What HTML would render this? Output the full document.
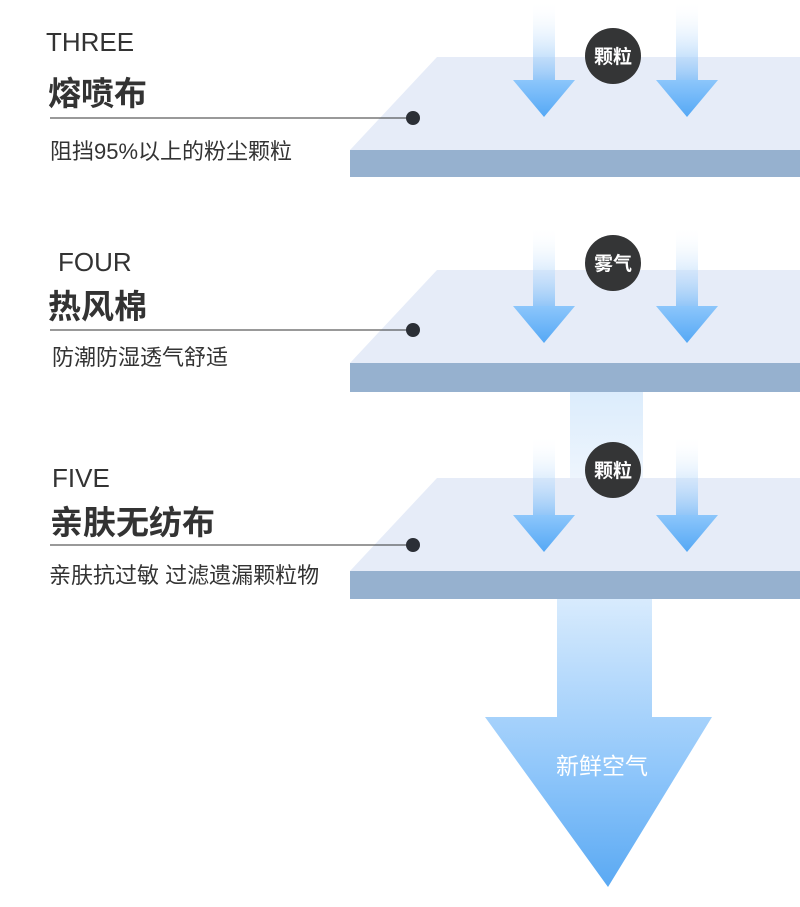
<!DOCTYPE html>
<html><head><meta charset="utf-8"><style>
body{margin:0;width:800px;height:907px;overflow:hidden;background:#fff;font-family:"Liberation Sans","Noto Sans CJK SC",sans-serif;}
.t{position:absolute;color:#333;white-space:nowrap;}
</style></head><body>
<svg width="800" height="907" style="position:absolute;left:0;top:0">
<defs>
<linearGradient id="sh" x1="0" y1="0" x2="0" y2="1"><stop offset="0" stop-color="#fff" stop-opacity="0"/><stop offset="1" stop-color="#8ec4f8"/></linearGradient>
<linearGradient id="hd" x1="0" y1="0" x2="0" y2="1"><stop offset="0" stop-color="#8cc6fb"/><stop offset="1" stop-color="#55a8f5"/></linearGradient>
<linearGradient id="big" x1="0" y1="0" x2="0" y2="1"><stop offset="0" stop-color="#d8ebfd"/><stop offset="0.6" stop-color="#8fc6fa"/><stop offset="1" stop-color="#5aa9f3"/></linearGradient>
<linearGradient id="up" x1="0" y1="0" x2="0" y2="1"><stop offset="0" stop-color="#d9ebfc"/><stop offset="1" stop-color="#eef5fd"/></linearGradient>
<g id="a"><rect x="-11" y="0" width="22" height="82" fill="url(#sh)"/><polygon points="-31,80 31,80 0,117" fill="url(#hd)"/></g>
</defs>
<rect x="570" y="380" width="73" height="100" fill="url(#up)"/>
<polygon points="437,57 800,57 800,150 350,150" fill="#e6ecf8"/>
<rect x="350" y="150" width="450" height="27" fill="#96b1cf"/>
<polygon points="437,270 800,270 800,363 350,363" fill="#e6ecf8"/>
<rect x="350" y="363" width="450" height="29" fill="#96b1cf"/>
<polygon points="437,478 800,478 800,571 350,571" fill="#e6ecf8"/>
<polygon points="557,599 652,599 652,717 712,717 608,887 485,717 557,717" fill="url(#big)"/>
<rect x="350" y="571" width="450" height="28" fill="#96b1cf"/>
<use href="#a" x="544" y="0"/><use href="#a" x="687" y="0"/>
<use href="#a" x="544" y="226"/><use href="#a" x="687" y="226"/>
<use href="#a" x="544" y="435"/><use href="#a" x="687" y="435"/>
<circle cx="613" cy="56" r="28" fill="#343536"/>
<circle cx="613" cy="263" r="28" fill="#343536"/>
<circle cx="613" cy="470" r="28" fill="#343536"/>
<g fill="#fff" font-size="19" text-anchor="middle" font-weight="bold" font-family="Liberation Sans, Noto Sans CJK SC, sans-serif">
<text x="613" y="63">颗粒</text><text x="613" y="270">雾气</text><text x="613" y="477">颗粒</text>
<text x="602" y="774" font-size="23" font-weight="normal">新鲜空气</text></g>
<g stroke="#333" stroke-width="1"><line x1="50" y1="118" x2="413" y2="118"/><line x1="50" y1="330" x2="413" y2="330"/><line x1="50" y1="545" x2="413" y2="545"/></g>
<g fill="#2b2f36"><circle cx="413" cy="118" r="7"/><circle cx="413" cy="330" r="7"/><circle cx="413" cy="545" r="7"/></g>
</svg>
<div class="t" style="left:46px;top:27px;font-size:26px">THREE</div>
<div class="t" style="left:48px;top:67px;font-size:33px;font-weight:bold">熔喷布</div>
<div class="t" style="left:50px;top:134px;font-size:22px">阻挡95%以上的粉尘颗粒</div>
<div class="t" style="left:58px;top:247px;font-size:26px">FOUR</div>
<div class="t" style="left:48px;top:280px;font-size:33px;font-weight:bold">热风棉</div>
<div class="t" style="left:52px;top:340px;font-size:22px">防潮防湿透气舒适</div>
<div class="t" style="left:52px;top:463px;font-size:26px">FIVE</div>
<div class="t" style="left:50px;top:496px;font-size:33px;font-weight:bold">亲肤无纺布</div>
<div class="t" style="left:49px;top:558px;font-size:22px">亲肤抗过敏 过滤遗漏颗粒物</div>
</body></html>
